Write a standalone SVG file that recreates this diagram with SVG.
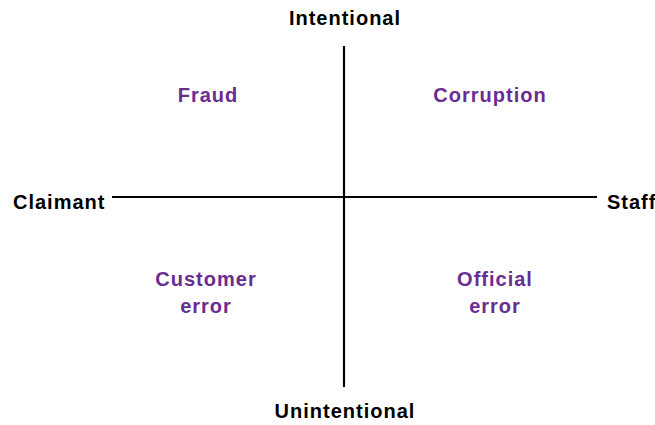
<svg xmlns="http://www.w3.org/2000/svg" width="655" height="425" viewBox="0 0 655 425">
  <style>
    .axis-label { font-family: "Liberation Sans", Arial, sans-serif; font-size: 20px; font-weight: bold; fill: #000; letter-spacing: 1px; }
    .quadrant { font-family: "Liberation Sans", Arial, sans-serif; font-size: 20px; font-weight: bold; fill: #6a2c90; letter-spacing: 1px; text-anchor: middle; }
    .axis { stroke: #000; stroke-width: 2.2; fill: none; }
  </style>
  <rect width="655" height="425" fill="#fff"/>

  <g id="connectors">
    <line class="axis" x1="344" y1="46" x2="344" y2="387"/>
    <line class="axis" x1="112" y1="197" x2="597" y2="197"/>
  </g>

  <g id="intentional"><text class="axis-label" x="345" y="25" text-anchor="middle">Intentional</text></g>
  <g id="unintentional"><text class="axis-label" x="345" y="418" text-anchor="middle">Unintentional</text></g>
  <g id="claimant"><text class="axis-label" x="13" y="209">Claimant</text></g>
  <g id="staff"><text class="axis-label" x="607" y="209">Staff</text></g>

  <g id="fraud"><text class="quadrant" x="208" y="102">Fraud</text></g>
  <g id="corruption"><text class="quadrant" x="490" y="102">Corruption</text></g>
  <g id="customer-error">
    <text class="quadrant" x="206" y="286">Customer</text>
    <text class="quadrant" x="206" y="313">error</text>
  </g>
  <g id="official-error">
    <text class="quadrant" x="495" y="286">Official</text>
    <text class="quadrant" x="495" y="313">error</text>
  </g>
</svg>
